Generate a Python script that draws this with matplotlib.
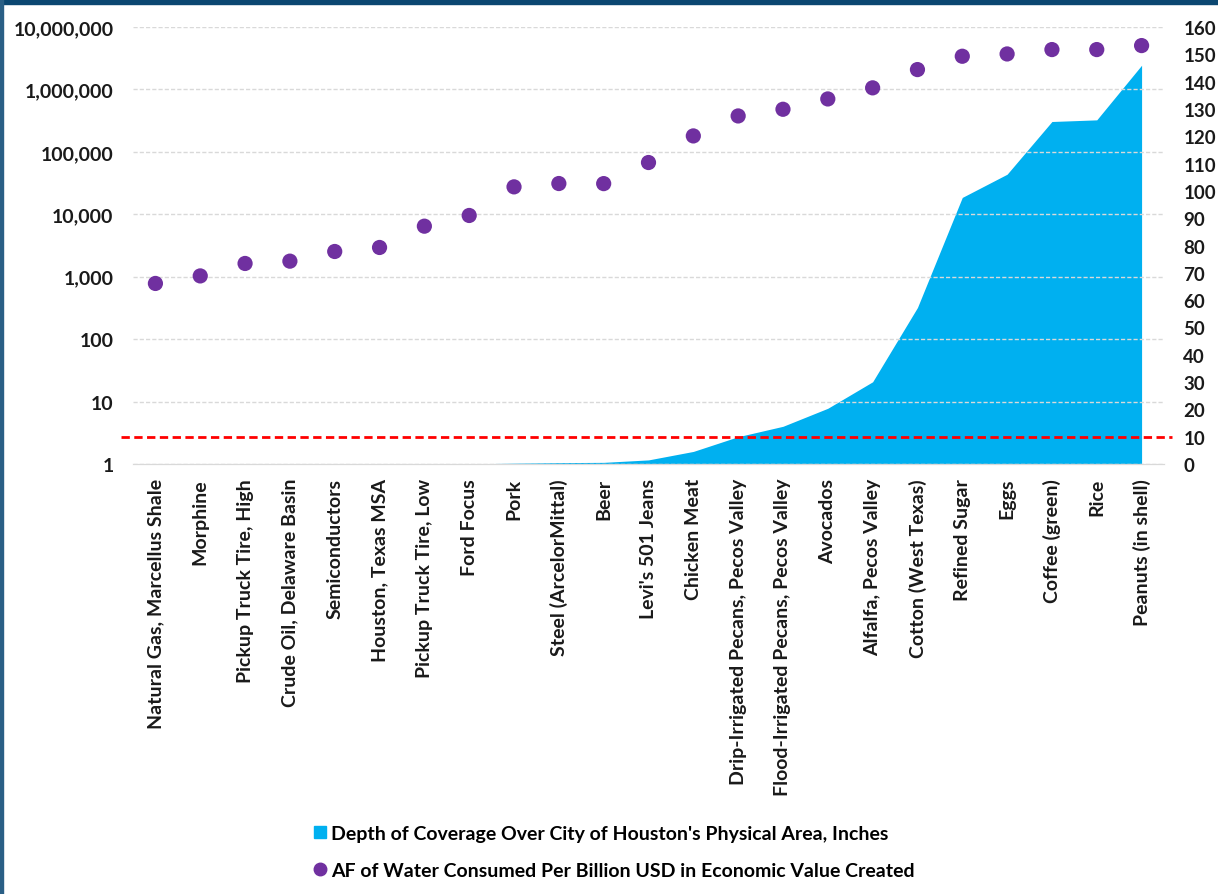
import matplotlib.pyplot as plt
from matplotlib.ticker import FixedLocator, FuncFormatter
from matplotlib.lines import Line2D
from matplotlib.patches import Rectangle

plt.rcParams['font.family'] = ['Lato', 'DejaVu Sans']

products = ["Natural Gas, Marcellus Shale", "Morphine", "Pickup Truck Tire, High",
            "Crude Oil, Delaware Basin", "Semiconductors", "Houston, Texas MSA",
            "Pickup Truck Tire, Low", "Ford Focus", "Pork", "Steel (ArcelorMittal)",
            "Beer", "Levi's 501 Jeans", "Chicken Meat", "Drip-Irrigated Pecans, Pecos Valley",
            "Flood-Irrigated Pecans, Pecos Valley", "Avocados", "Alfalfa, Pecos Valley",
            "Cotton (West Texas)", "Refined Sugar", "Eggs", "Coffee (green)", "Rice",
            "Peanuts (in shell)"]

# acre-feet of water per billion USD (left, log axis)
af_per_billion = [780, 1030, 1630, 1775, 2535, 2940, 6450, 9570, 27500, 31100,
                  31000, 67500, 180000, 376000, 481000, 704000, 1060000, 2080000,
                  3400000, 3700000, 4350000, 4350000, 5040000]

# depth of coverage over Houston, inches (right, linear axis)
depth_inches = [0, 0, 0, 0, 0, 0, 0, 0.05, 0.3, 0.5, 0.6, 1.5, 4.6, 10, 13.8,
                20.4, 30.1, 57.3, 97.6, 106.1, 125.4, 126, 146]

threshold = 10

fig = plt.figure(figsize=(12.18, 8.95), dpi=100)
ax = fig.add_axes([133 / 1218, 430 / 895, 1031 / 1218, 437 / 895])
ax2 = ax.twinx()

x = range(len(products))

ax2.fill_between(x, depth_inches, 0, color='#00b0f0', linewidth=0, zorder=2)
ax2.axhline(threshold, color='#ff0000', linestyle=(0, (3, 1.6)), linewidth=2, zorder=3,
            clip_on=False, xmin=-0.012, xmax=1.008)
ax2.set_ylim(0, 160)
ax2.yaxis.set_major_locator(FixedLocator(range(0, 161, 10)))

ax.scatter(x, af_per_billion, s=120, color='#7030a0', zorder=5, edgecolors='none')
ax.set_yscale('log')
ax.set_ylim(1, 10000000)
ax.set_xlim(-0.5, len(products) - 0.5)
ax.yaxis.set_major_locator(FixedLocator([10 ** i for i in range(8)]))
ax.yaxis.set_minor_locator(FixedLocator([]))
ax.yaxis.set_major_formatter(FuncFormatter(lambda v, p: f"{v:,.0f}"))
ax.grid(axis='y', color='#d9d9d9', linestyle=(0, (3, 1.5)), linewidth=1)
ax.set_axisbelow(True)

# scatter above the area
ax.set_zorder(ax2.get_zorder() + 1)
ax.patch.set_visible(False)

ax.set_xticks(list(x))
ax.set_xticklabels(products, rotation=90, fontsize=14, fontweight='bold', color='#1a1a1a')
ax.tick_params(axis='x', length=0, pad=10)
ax.tick_params(axis='y', length=0, labelsize=14, pad=14, labelcolor='#1a1a1a')
ax2.tick_params(axis='y', length=0, labelsize=13.5, pad=14, labelcolor='#1a1a1a')
for lab in ax.get_yticklabels() + ax2.get_yticklabels():
    lab.set_fontweight('bold')

for a in (ax, ax2):
    for side in ('top', 'left', 'right'):
        a.spines[side].set_visible(False)
    a.spines['bottom'].set_color('#d9d9d9')

handles = [Line2D([], [], marker='s', color='#00b0f0', linestyle='none', markersize=8),
           Line2D([], [], marker='o', color='#7030a0', linestyle='none', markersize=9)]
labels = ["Depth of Coverage Over City of Houston's Physical Area, Inches",
          "AF of Water Consumed Per Billion USD in Economic Value Created"]
fig.legend(handles, labels, loc='upper left', bbox_to_anchor=(302 / 1218, 1 - 818 / 895),
           frameon=False, prop={'size': 14, 'weight': 'bold'}, handletextpad=0.1,
           handlelength=1.0, labelspacing=1.05, borderaxespad=0)

# slide frame
fig.patches.append(Rectangle((0, 1 - 5 / 895), 1, 5 / 895, transform=fig.transFigure,
                             color='#0b4771', zorder=10))
fig.patches.append(Rectangle((0, 0), 2.5 / 1218, 1, transform=fig.transFigure,
                             color='#2a5f85', zorder=10))

plt.savefig("out.png")
